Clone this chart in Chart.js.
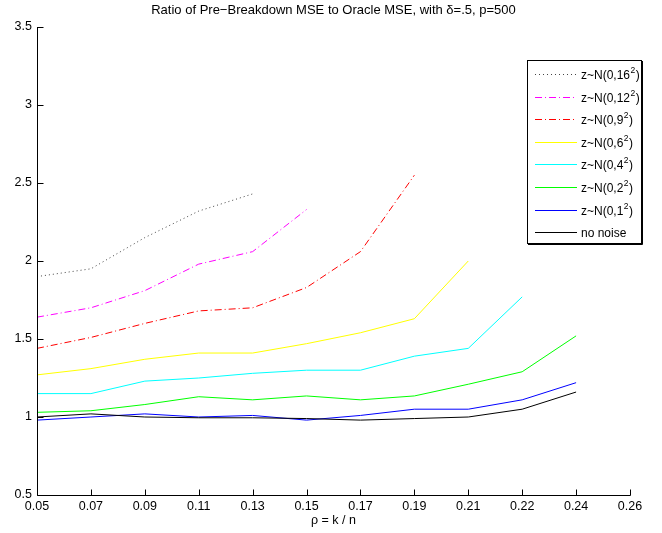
<!DOCTYPE html>
<html><head><meta charset="utf-8">
<script src="https://cdn.jsdelivr.net/npm/chart.js@4/dist/chart.umd.min.js"></script>
<style>html,body{margin:0;padding:0;background:#fff}#wrap{width:662px;height:533px;position:relative}</style>
</head><body><div id="wrap"><canvas id="c"></canvas></div>
<script>
const xLabels = ['0.05','0.07','0.09','0.11','0.13','0.15','0.17','0.19','0.21','0.22','0.24','0.26'];
const yTicks = [0.5, 1, 1.5, 2, 2.5, 3, 3.5];
const seriesNames = ['z~N(0,16²)','z~N(0,12²)','z~N(0,9²)','z~N(0,6²)','z~N(0,4²)','z~N(0,2²)','z~N(0,1²)','no noise'];
const noise16 = [1.90, 1.95, 2.15, 2.32, 2.43];
const noise12 = [1.64, 1.70, 1.81, 1.98, 2.06, 2.33];
const noise9  = [1.44, 1.51, 1.60, 1.68, 1.70, 1.83, 2.06, 2.55];
const noise6  = [1.27, 1.31, 1.37, 1.41, 1.41, 1.47, 1.54, 1.63, 2.00];
const noise4  = [1.15, 1.15, 1.23, 1.25, 1.28, 1.30, 1.30, 1.39, 1.44, 1.77];
const noise2  = [1.03, 1.04, 1.08, 1.13, 1.11, 1.135, 1.11, 1.135, 1.21, 1.29, 1.52];
const noise1  = [0.98, 1.00, 1.02, 1.00, 1.01, 0.98, 1.01, 1.05, 1.05, 1.11, 1.22];
const noNoise = [1.00, 1.02, 1.00, 0.995, 0.995, 0.99, 0.98, 0.99, 1.00, 1.05, 1.16];
const titleText = 'Ratio of Pre\u2212Breakdown MSE to Oracle MSE, with \u03b4=.5, p=500';
const xTitle = '\u03c1 = k / n';

const FONT = '"Liberation Sans", Arial, sans-serif';
const seriesData = [noise16, noise12, noise9, noise6, noise4, noise2, noise1, noNoise];
const colors = ['#444444', '#ff00ff', '#ff0000', '#ffff00', '#00ffff', '#00ff00', '#0000ff', '#000000'];
const dashes = [[1, 3], [7, 3, 1, 3], [7, 3, 1, 3], [], [], [], [], []];

const datasets = seriesData.map((d, i) => ({
  label: seriesNames[i],
  data: d,
  borderColor: colors[i],
  backgroundColor: colors[i],
  borderWidth: 1,
  borderDash: dashes[i],
  pointRadius: 0,
  tension: 0,
  fill: false
})).reverse();

function drawLabel(ctx, text, x, y) {
  const parts = text.split('\u00b2');
  ctx.font = '12px ' + FONT;
  ctx.fillText(parts[0], x, y);
  let w = ctx.measureText(parts[0]).width;
  if (parts.length > 1) {
    ctx.font = '8.5px ' + FONT;
    ctx.fillText('2', x + w + 0.5, y - 5);
    w += ctx.measureText('2').width + 1;
    ctx.font = '12px ' + FONT;
    ctx.fillText(parts[1], x + w, y);
  }
}

const matlabAxes = {
  id: 'matlabAxes',
  afterDraw(chart) {
    const { ctx, chartArea: a, scales: { x, y } } = chart;
    ctx.save();
    ctx.strokeStyle = '#000';
    ctx.lineWidth = 1;
    ctx.setLineDash([]);
    ctx.beginPath();
    const L = Math.round(a.left) + 0.5, B = Math.round(a.bottom) + 0.5;
    ctx.moveTo(L, a.top);
    ctx.lineTo(L, B);
    ctx.lineTo(a.right + 0.5, B);
    xLabels.forEach((l, i) => {
      const px = Math.round(x.getPixelForValue(i)) + 0.5;
      ctx.moveTo(px, B); ctx.lineTo(px, B - 6);
    });
    yTicks.forEach(v => {
      const py = Math.round(y.getPixelForValue(v)) + 0.5;
      ctx.moveTo(L, py); ctx.lineTo(L + 6, py);
    });
    ctx.stroke();

    // titles
    ctx.fillStyle = '#000';
    ctx.font = '13px ' + FONT;
    ctx.textAlign = 'center';
    ctx.textBaseline = 'middle';
    ctx.fillText(titleText, (a.left + a.right) / 2, 10);
    ctx.font = '12.5px ' + FONT;
    ctx.fillText(xTitle, (a.left + a.right) / 2, 521);

    // legend
    const bx = 527, by = 60, bw = 114, rowH = 22.6, bh = 183;
    ctx.fillStyle = '#fff';
    ctx.fillRect(bx, by, bw, bh);
    ctx.strokeStyle = '#000';
    ctx.lineWidth = 1;
    ctx.strokeRect(bx + 0.5, by + 0.5, bw, bh);
    ctx.beginPath();
    ctx.moveTo(bx + bw + 1.5, by + 1); ctx.lineTo(bx + bw + 1.5, by + bh + 1.5); ctx.lineTo(bx + 1, by + bh + 1.5);
    ctx.stroke();
    ctx.textAlign = 'left';
    for (let i = 0; i < seriesNames.length; i++) {
      const cy = Math.round(by + 14 + i * rowH) + 0.5;
      ctx.save();
      ctx.beginPath();
      ctx.strokeStyle = colors[i];
      ctx.lineWidth = 1.2;
      ctx.setLineDash(dashes[i]);
      ctx.moveTo(535, cy); ctx.lineTo(577, cy);
      ctx.stroke();
      ctx.restore();
      ctx.fillStyle = '#000';
      drawLabel(ctx, seriesNames[i], 581, cy + 1);
    }
    ctx.restore();
  }
};

new Chart(document.getElementById('c'), {
  type: 'line',
  data: { labels: xLabels, datasets },
  options: {
    responsive: true,
    maintainAspectRatio: false,
    animation: false,
    layout: { padding: { top: 27, right: 32, left: 0, bottom: 0 } },
    plugins: { legend: { display: false }, title: { display: false }, tooltip: { enabled: false } },
    scales: {
      x: {
        type: 'category',
        offset: false,
        grid: { display: false, drawTicks: false },
        border: { display: false },
        ticks: { color: '#000', font: { family: FONT, size: 12.5 }, maxRotation: 0, autoSkip: false, padding: 4 },
        afterFit: s => { s.height = 38; }
      },
      y: {
        min: 0.5, max: 3.5,
        grid: { display: false, drawTicks: false },
        border: { display: false },
        ticks: { stepSize: 0.5, color: '#000', font: { family: FONT, size: 12.5 }, padding: 5,
                 callback: v => String(Math.round(v * 10) / 10) },
        afterFit: s => { s.width = 37; }
      }
    }
  },
  plugins: [matlabAxes]
});
</script>
</body></html>
